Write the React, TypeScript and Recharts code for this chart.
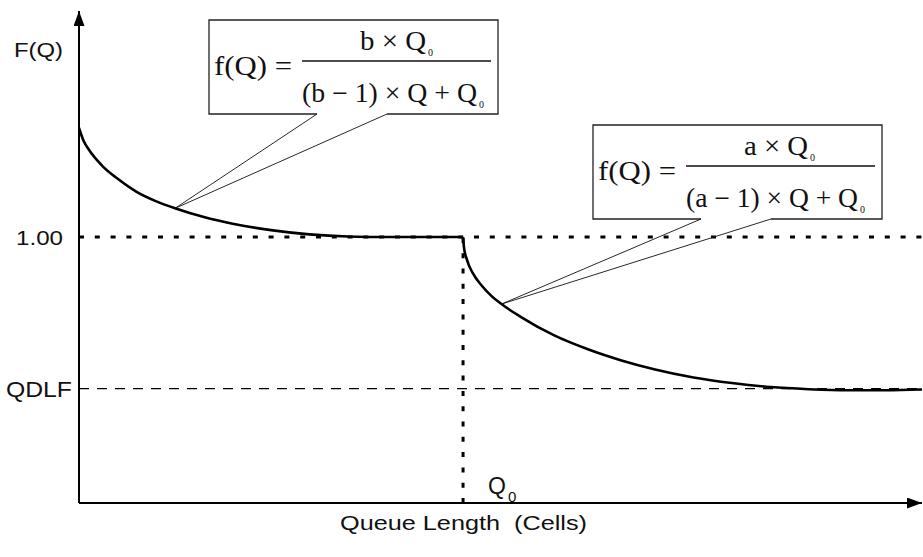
import { LineChart, Line, XAxis, YAxis, ReferenceLine, ReferenceDot } from "recharts";

// F(Q) below and above the threshold queue length Q0
const Q0 = 40;
const QDLF = 0.43;
const Q_MAX = 87.8;
const F_MAX = 1.85;

const upperQ = [0, 0.5, 1, 2.5, 4, 6, 8, 10, 13, 16, 20, 24, 28, 32, 36, 40];
const upperF = [1.41, 1.36, 1.33, 1.265, 1.22, 1.17, 1.135, 1.108, 1.075, 1.05, 1.026, 1.01, 1.002, 1.0, 1.0, 1.0];

const lowerQ = [40, 40.1, 40.4, 41, 42, 43, 44, 46, 49.5, 53, 56.5, 60, 64, 68, 72, 76, 80, 84, 87.8];
const lowerF = [1.0, 0.96, 0.915, 0.865, 0.815, 0.777, 0.748, 0.7, 0.63, 0.578, 0.536, 0.502, 0.472, 0.451, 0.436, 0.428, 0.424, 0.424, 0.427];

const upperCurve = upperQ.map((q, i) => ({ q, f: upperF[i] }));
const lowerCurve = lowerQ.map((q, i) => ({ q, f: lowerF[i] }));

const upperAnchor = upperCurve.find((p) => p.q === 10)!;
const lowerAnchor = lowerCurve.find((p) => p.q === 44)!;

const SANS = "'Liberation Sans', Arial, sans-serif";
const SERIF = "'Liberation Serif', 'Times New Roman', serif";

interface BoxProps {
  x: number;
  y: number;
  letter: string;
  numWidth: number;
  denWidth: number;
}

const BOX_W = 289;
const BOX_H = 94;
const GAP_L = 108;
const GAP_R = 178;

function FormulaBox({ x, y, letter, numWidth, denWidth }: BoxProps) {
  const b = y + BOX_H;
  return (
    <g>
      <path
        d={`M${x + GAP_L},${b} L${x},${b} L${x},${y} L${x + BOX_W},${y} L${x + BOX_W},${b} L${x + GAP_R},${b}`}
        fill="#fff"
        stroke="#222"
        strokeWidth={1.3}
      />
      <g fontFamily={SERIF} fontSize={27} fill="#111">
        <text x={x + 5} y={y + 55} textLength={78} lengthAdjust="spacingAndGlyphs">
          f(Q) =
        </text>
        <text x={x + 151} y={y + 30} textLength={numWidth} lengthAdjust="spacingAndGlyphs">
          {`${letter} × Q`}
        </text>
        <text x={x + 151 + numWidth + 2} y={y + 36} fontSize={10}>
          0
        </text>
        <line x1={x + 93} x2={x + 282} y1={y + 41} y2={y + 41} stroke="#111" strokeWidth={1.4} />
        <text x={x + 93} y={y + 82} textLength={denWidth} lengthAdjust="spacingAndGlyphs">
          {`(${letter} − 1) × Q + Q`}
        </text>
        <text x={x + 93 + denWidth + 2} y={y + 88} fontSize={10}>
          0
        </text>
      </g>
    </g>
  );
}

// two thin leader lines from a point on the curve up to a box's open bottom edge
function callout(boxX: number, boxY: number) {
  return (p: any) => (
    <g stroke="#111" strokeWidth={0.9}>
      <line x1={p.cx} y1={p.cy} x2={boxX + GAP_L} y2={boxY + BOX_H} />
      <line x1={p.cx} y1={p.cy} x2={boxX + GAP_R} y2={boxY + BOX_H} />
    </g>
  );
}

function sideLabel(text: string, right: number, width: number, size: number) {
  return (p: any) => (
    <text
      x={p.viewBox.x - right - width}
      y={p.viewBox.y + size * 0.36}
      fontFamily={SANS}
      fontSize={size}
      fill="#111"
      textLength={width}
      lengthAdjust="spacingAndGlyphs"
    >
      {text}
    </text>
  );
}

function Q0Tick(p: any) {
  return (
    <g fontFamily={SANS} fill="#111">
      <text x={p.x + 25} y={p.y - 9} fontSize={23}>
        Q
      </text>
      <text x={p.x + 45} y={p.y - 1} fontSize={15}>
        0
      </text>
    </g>
  );
}

export default function App() {
  return (
    <div style={{ position: "absolute", left: 0, top: 0, width: 923, height: 557, background: "#fff" }}>
      <LineChart width={923} height={557} margin={{ top: 11, right: 1, bottom: 0, left: 0 }}>
        <defs>
          <marker
            id="axisArrow"
            markerUnits="userSpaceOnUse"
            markerWidth={15}
            markerHeight={11}
            refX={15}
            refY={5.5}
            orient="auto-start-reverse"
          >
            <path d="M0,0 L15,5.5 L0,11 z" fill="#000" />
          </marker>
        </defs>
        <XAxis
          type="number"
          dataKey="q"
          domain={[0, Q_MAX]}
          allowDataOverflow
          ticks={[Q0]}
          tick={<Q0Tick />}
          tickLine={false}
          tickSize={0}
          tickMargin={0}
          height={54}
          axisLine={{ stroke: "#000", strokeWidth: 2, markerEnd: "url(#axisArrow)" }}
        />
        <YAxis
          type="number"
          domain={[0, F_MAX]}
          allowDataOverflow
          tick={false}
          tickLine={false}
          width={79}
          axisLine={{ stroke: "#000", strokeWidth: 2, markerStart: "url(#axisArrow)" }}
        />
        <ReferenceLine
          y={1}
          stroke="#000"
          strokeWidth={3}
          strokeDasharray="5 10.8"
          label={sideLabel("1.00", 16, 47, 21)}
        />
        <ReferenceLine
          y={QDLF}
          stroke="#000"
          strokeWidth={1.4}
          strokeDasharray="10 8"
          label={sideLabel("QDLF", 7, 66, 22)}
        />
        <ReferenceLine
          segment={[
            { x: Q0, y: 0 },
            { x: Q0, y: 1 },
          ]}
          stroke="#000"
          strokeWidth={3}
          strokeDasharray="5 10.3"
        />
        <Line
          data={upperCurve}
          dataKey="f"
          type="monotone"
          stroke="#000"
          strokeWidth={2.6}
          dot={false}
          isAnimationActive={false}
        />
        <Line
          data={lowerCurve}
          dataKey="f"
          type="monotone"
          stroke="#000"
          strokeWidth={2.6}
          dot={false}
          isAnimationActive={false}
        />
        <FormulaBox x={209} y={20} letter="b" numWidth={66} denWidth={175} />
        <FormulaBox x={593} y={125} letter="a" numWidth={64} denWidth={172} />
        <ReferenceDot x={upperAnchor.q} y={upperAnchor.f} r={0} shape={callout(209, 20)} />
        <ReferenceDot x={lowerAnchor.q} y={lowerAnchor.f} r={0} shape={callout(593, 125)} />
        <text
          x={14}
          y={57}
          fontFamily={SANS}
          fontSize={21}
          fill="#111"
          textLength={49}
          lengthAdjust="spacingAndGlyphs"
        >
          F(Q)
        </text>
        <text
          x={340}
          y={530}
          fontFamily={SANS}
          fontSize={21}
          fill="#111"
          textLength={247}
          lengthAdjust="spacingAndGlyphs"
          style={{ whiteSpace: "pre" }}
        >
          Queue Length  (Cells)
        </text>
      </LineChart>
    </div>
  );
}
